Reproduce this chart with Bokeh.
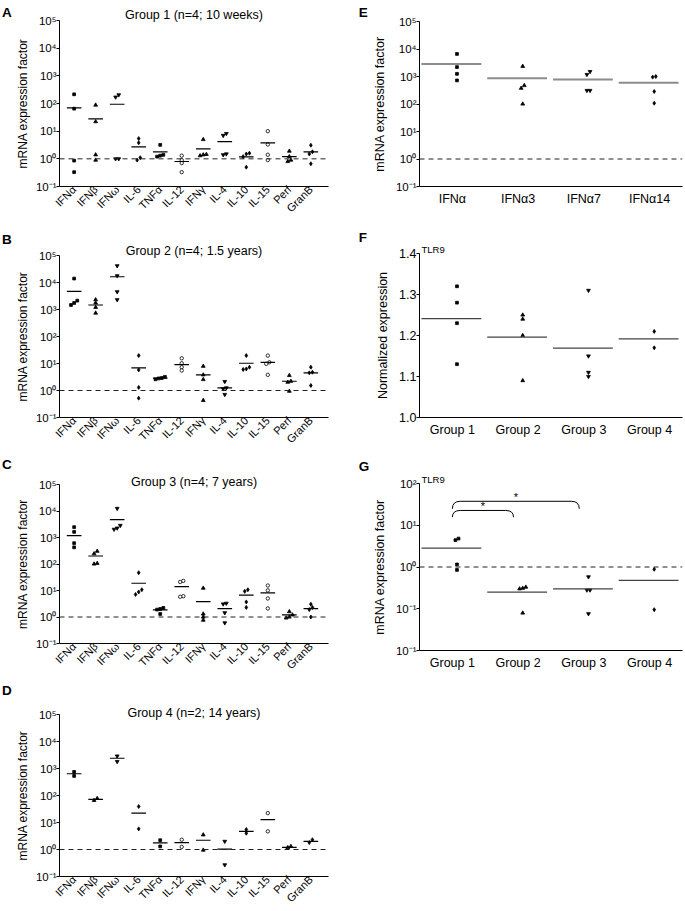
import math
from bokeh.plotting import figure
from bokeh.models import Range1d, FixedTicker, Span, Title
from bokeh.layouts import row, column
from bokeh.core.properties import value
from bokeh.embed import file_html
from bokeh.resources import INLINE

# ---------------- data ----------------
cytokines = ["IFNα", "IFNβ", "IFNω", "IL-6", "TNFα", "IL-12", "IFNγ", "IL-4",
             "IL-10", "IL-15", "Perf", "GranB"]

group_titles = ["Group 1 (n=4; 10 weeks)", "Group 2 (n=4; 1.5 years)",
                "Group 3 (n=4; 7 years)", "Group 4 (n=2; 14 years)"]

g1_values = [[215, 65, 0.86, 0.33], [88, 22, 1.4, 0.9], [205, 170, 1.0, 1.0],
             [5.4, 3.8, 1.1, 0.9], [3.2, 1.4, 1.3, 1.2], [1.3, 0.9, 0.7, 0.33],
             [5.0, 1.45, 1.3, 1.4], [8.2, 7.0, 1.5, 1.4], [1.6, 1.5, 1.2, 0.5],
             [10, 3.3, 1.4, 0.9], [1.9, 1.2, 0.8, 0.9], [3.1, 1.8, 1.5, 0.66]]
g1_means = [70, 28, 94, 2.7, 1.77, 0.8, 2.3, 4.2, 1.17, 3.8, 1.2, 1.78]

g2_values = [[14000, 2130, 1740, 1470], [2300, 1740, 1200, 740],
             [41500, 17700, 4530, 2300], [19.6, 5.8, 1.3, 0.52],
             [3.2, 2.9, 2.8, 2.6], [15.6, 10.2, 7.3, 5.5], [7.9, 3.8, 2.55, 0.43],
             [2.15, 1.25, 1.15, 0.71], [19.6, 7.3, 6.3, 6.0], [19.6, 11.1, 9.7, 3.8],
             [3.6, 2.2, 2.03, 0.94], [7.3, 4.76, 4.5, 1.53]]
g2_means = [4700, 1470, 16300, 6.9, 2.86, 9.1, 3.8, 1.25, 10.2, 11.1, 2.2, 4.5]

g3_values = [[2460, 1630, 610, 425], [303, 245, 106, 100],
             [12500, 2850, 2260, 2040], [47, 10.7, 8.8, 7.1], [2.2, 2.0, 1.9, 1.3],
             [23, 21, 6.1, 5.8], [12.3, 1.3, 1.0, 0.76], [3.3, 3.1, 1.44, 0.6],
             [10.7, 9.3, 3.7, 2.3], [15.4, 10.1, 5.0, 2.1], [1.6, 1.2, 1.0, 0.92],
             [3.05, 2.3, 1.9, 1.0]]
g3_means = [1170, 200, 4700, 18.8, 1.85, 14, 3.8, 2.07, 6.7, 8.1, 1.2, 2.07]

g4_values = [[750, 530], [78, 66], [2900, 1800], [39, 5.8], [2.2, 1.3], [2.3, 1.25],
             [3.5, 0.95], [2.0, 0.27], [5.5, 4.0], [22.3, 4.7], [1.3, 1.18], [2.3, 1.8]]
g4_means = [640, 72, 2400, 22.3, 1.75, 1.8, 2.2, 1.03, 4.7, 12.7, 1.2, 2.0]

subtypes = ["IFNα", "IFNα3", "IFNα7", "IFNα14"]
subtype_values = [[6600, 2200, 1250, 720], [2350, 470, 375, 100],
                  [1510, 1180, 310, 310], [1000, 950, 285, 107]]
subtype_means = [2870, 870, 780, 590]

groups = ["Group 1", "Group 2", "Group 3", "Group 4"]
tlr9_norm_values = [[1.32, 1.28, 1.23, 1.13], [1.25, 1.24, 1.20, 1.09],
                    [1.31, 1.15, 1.11, 1.10], [1.21, 1.17]]
tlr9_norm_means = [1.241, 1.196, 1.169, 1.192]

tlr9_mrna_values = [[4.8, 4.4, 1.15, 0.85], [0.33, 0.31, 0.30, 0.079],
                    [0.58, 0.28, 0.28, 0.076], [0.88, 0.095]]
tlr9_mrna_means = [2.83, 0.25, 0.30, 0.48]

# significance brackets: (from group, to group, top, foot, star)
sig_from = [1, 1]
sig_to = [2, 3]
sig_top = [22.6, 37.5]
sig_foot = [15.6, 24.8]
sig_star = [29, 47]

log_ticks = [0.1, 1, 10, 100, 1000, 10000, 100000]
log_labels = ["10⁻¹", "10⁰", "10¹", "10²", "10³", "10⁴", "10⁵"]
g_ticks = [0.01, 0.1, 1, 10, 100]
g_labels = ["10⁻¹", "10⁻¹", "10⁰", "10¹", "10²"]
lin_ticks = [1.0, 1.1, 1.2, 1.3, 1.4]
lin_labels = ["1.0", "1.1", "1.2", "1.3", "1.4"]

left_letters = ["A", "B", "C", "D"]
right_letters = ["E", "F", "G"]

# ---------------- styles / layout ----------------
FONT = "Liberation Sans"
cyto_markers = ["square", "triangle", "inverted_triangle", "diamond", "square",
                "circle", "triangle", "inverted_triangle", "diamond", "circle",
                "triangle", "diamond"]
cyto_fills = ["black", "black", "black", "black", "black", "white", "black", "black",
              "black", "white", "black", "black"]
grp_markers = ["square", "triangle", "inverted_triangle", "diamond"]
marker_sizes = {"square": 2.8, "triangle": 3.8, "inverted_triangle": 3.8,
                "diamond": 4.0, "circle": 3.4}

PAGE_H = 911
STRIP_L, STRIP_R = 12, 24
left_letter_base = [11.5, 238.5, 463.5, 689.5]     # page y of letter baselines
right_letter_base = [11.7, 236.8, 466.0]
left_letter_x, right_letter_x = 1.5, 13.3


def letter_strip(width, letters, bases, lx):
    s = figure(width=width, height=PAGE_H, x_range=Range1d(0, width),
               y_range=Range1d(PAGE_H, 0), output_backend="svg",
               toolbar_location=None, x_axis_location=None, y_axis_location=None,
               min_border=0, title=None)
    s.outline_line_color = None
    s.xgrid.visible = False
    s.ygrid.visible = False
    s.text(x=[lx] * len(letters), y=bases, text=letters, text_font=value(FONT),
           text_font_size="13.5px", text_font_style="bold", text_color="black",
           text_baseline="alphabetic", text_align="left")
    return s


def spread(vals, to_px, unit_px, min_gap=3.0, step_px=3.2):
    ys = [to_px(v) for v in vals]
    order = sorted(range(len(vals)), key=lambda i: ys[i])
    clusters = []
    for i in order:
        if clusters and ys[i] - ys[clusters[-1][-1]] < min_gap:
            clusters[-1].append(i)
        else:
            clusters.append([i])
    offs = [0.0] * len(vals)
    for c in clusters:
        k = len(c)
        for j, i in enumerate(c):
            offs[i] = (j - (k - 1) / 2) * step_px / unit_px
    return offs


def base_fig(w, h, bl, br, bt, bb, xr, yr, log):
    p = figure(width=w, height=h, x_range=xr, y_range=yr,
               y_axis_type="log" if log else "linear", title=None,
               output_backend="svg", toolbar_location=None,
               min_border_left=bl, min_border_right=br,
               min_border_top=bt, min_border_bottom=bb)
    p.outline_line_color = None
    p.xgrid.visible = False
    p.ygrid.visible = False
    p.background_fill_color = "white"
    p.border_fill_color = "white"
    for ax in (p.xaxis[0], p.yaxis[0]):
        ax.axis_line_color = "black"
        ax.axis_line_width = 1
        ax.major_tick_line_color = "black"
        ax.minor_tick_line_color = None
        ax.major_label_text_font = FONT
        ax.major_label_text_color = "black"
        ax.axis_label_text_font = FONT
        ax.axis_label_text_font_style = "normal"
        ax.axis_label_text_color = "black"
    p.yaxis.major_tick_out = 3
    p.yaxis.major_tick_in = 0
    p.yaxis.major_label_standoff = 0
    p.yaxis.axis_label_standoff = 3
    p.yaxis.axis_label_text_font_size = "12px"
    p.yaxis.major_label_text_font_size = "11.5px"
    p.xaxis.major_tick_out = 0
    p.xaxis.major_tick_in = 0
    return p


def add_heading(p, bt, text, fs, align, offset, baseline):
    """Heading whose baseline sits `baseline` px below the frame top."""
    center = bt + baseline - 0.35 * fs
    h1 = max(2 * (bt - center), 4.0)
    p.add_layout(Title(text=text, align=align, offset=offset, vertical_align="middle",
                       standoff=int(round(h1 - 2 - 1.117 * fs)),
                       text_font=FONT, text_font_size=f"{fs}px",
                       text_font_style="normal", text_color="black"), "above")


def draw_points(p, values, means, markers, fills, to_px, unit_px, half_l, half_r,
                xshift, line_color, line_width):
    for i, vals in enumerate(values):
        offs = spread(vals, to_px, unit_px)
        xs = [i + 1 + xshift + o for o in offs]
        mk = markers[i]
        p.scatter(xs, vals, marker=mk, size=marker_sizes[mk], line_color="black",
                  fill_color=fills[i], line_width=0.8)
        p.segment(x0=[i + 1 - half_l], x1=[i + 1 + half_r], y0=[means[i]],
                  y1=[means[i]], line_color=line_color, line_width=line_width)


def cyto_panel(title, values, means, h, bt, bb, title_base):
    w, bl, br = 345 - STRIP_L, 53 - STRIP_L, 17
    xr = Range1d(0.32, 12.82)
    yr = Range1d(0.1, 1e5)
    p = base_fig(w, h, bl, br, bt, bb, xr, yr, True)
    per_dec = (h - bt - bb) / 6.0
    unit_px = (w - bl - br) / (xr.end - xr.start)
    p.yaxis.ticker = FixedTicker(ticks=log_ticks)
    p.yaxis.major_label_overrides = dict(zip(log_ticks, log_labels))
    p.yaxis.axis_label = "mRNA expression factor"
    p.xaxis.ticker = FixedTicker(ticks=list(range(1, len(cytokines) + 1)))
    p.xaxis.major_label_overrides = {i + 1: c for i, c in enumerate(cytokines)}
    p.xaxis.major_label_orientation = math.pi / 4
    p.xaxis.major_label_text_font_size = "11px"
    p.xaxis.major_label_standoff = 1
    p.add_layout(Span(location=1, dimension="width", line_color="#222222",
                      line_dash="5 4", line_width=1))
    draw_points(p, values, means, cyto_markers, cyto_fills,
                lambda v: math.log10(v) * per_dec, unit_px, 0.34, 0.34, 0.0,
                "black", 1.2)
    add_heading(p, bt, title, 12.5, "center", 0, title_base)
    return p


def group_panel(labels, values, means, h, bt, bb, kind, ylabel, line_color,
                line_width):
    w, bl, br = 340 - STRIP_R, 67 - STRIP_R, 3
    xr = Range1d(0.5, len(labels) + 0.5)
    if kind == "E":
        yr = Range1d(0.1, 1e5)
        to_px = lambda v: math.log10(v) * (h - bt - bb) / 6.0
    elif kind == "G":
        yr = Range1d(0.01, 100)
        to_px = lambda v: math.log10(v) * (h - bt - bb) / 4.0
    else:
        yr = Range1d(1.0, 1.4)
        to_px = lambda v: v * (h - bt - bb) / 0.4
    p = base_fig(w, h, bl, br, bt, bb, xr, yr, kind in ("E", "G"))
    unit_px = (w - bl - br) / (xr.end - xr.start)
    if kind == "E":
        p.yaxis.ticker = FixedTicker(ticks=log_ticks)
        p.yaxis.major_label_overrides = dict(zip(log_ticks, log_labels))
    elif kind == "G":
        p.yaxis.ticker = FixedTicker(ticks=g_ticks)
        p.yaxis.major_label_overrides = dict(zip(g_ticks, g_labels))
    else:
        p.yaxis.ticker = FixedTicker(ticks=lin_ticks)
        p.yaxis.major_label_overrides = dict(zip(lin_ticks, lin_labels))
        p.yaxis.major_label_text_font_size = "12.5px"
    p.yaxis.axis_label = ylabel
    p.yaxis.axis_label_text_font_size = "12.5px"
    p.yaxis.axis_label_standoff = 6
    p.xaxis.ticker = FixedTicker(ticks=list(range(1, len(labels) + 1)))
    p.xaxis.major_label_overrides = {i + 1: c for i, c in enumerate(labels)}
    p.xaxis.major_label_text_font_size = "12.5px"
    p.xaxis.major_label_standoff = 5
    if kind in ("E", "G"):
        p.add_layout(Span(location=1, dimension="width", line_color="#222222",
                          line_dash="5 4", line_width=1))
    draw_points(p, values, means, grp_markers, ["black"] * 4, to_px, unit_px,
                0.47, 0.44, 0.07, line_color, line_width)
    if kind != "E":
        add_heading(p, bt, "TLR9", 9.5, "left", 2, -1.0)
    return p


pA = cyto_panel(group_titles[0], g1_values, g1_means, 225, 20, 39, -1.0)
pB = cyto_panel(group_titles[1], g2_values, g2_means, 227, 30, 35, 0.0)
pC = cyto_panel(group_titles[2], g3_values, g3_means, 226, 32, 29, 1.5)
pD = cyto_panel(group_titles[3], g4_values, g4_means, 233, 36, 33, 2.5)

pE = group_panel(subtypes, subtype_values, subtype_means, 222, 21, 36, "E",
                 "mRNA expression factor", "#8c8c8c", 2)
pF = group_panel(groups, tlr9_norm_values, tlr9_norm_means, 230, 31, 35, "F",
                 "Normalized expression", "#444444", 1.3)
pG = group_panel(groups, tlr9_mrna_values, tlr9_mrna_means, 228, 31, 30, "G",
                 "mRNA expression factor", "#444444", 1.3)

# significance brackets on panel G
for a, b, top, foot, star in zip(sig_from, sig_to, sig_top, sig_foot, sig_star):
    xa, xb = a, b - 0.07
    r = 0.12
    pG.line([xa + r, xb - r], [top, top], line_color="black", line_width=1)
    pG.quadratic(x0=[xa], y0=[foot], x1=[xa + r], y1=[top], cx=[xa], cy=[top],
                 line_color="black", line_width=1)
    pG.quadratic(x0=[xb], y0=[foot], x1=[xb - r], y1=[top], cx=[xb], cy=[top],
                 line_color="black", line_width=1)
    pG.text(x=[(xa + xb) / 2], y=[star], text=["*"], text_font_size="11px",
            text_font=value(FONT), text_align="center", text_baseline="middle",
            text_color="black")

sL = letter_strip(STRIP_L, left_letters, left_letter_base, left_letter_x)
sR = letter_strip(STRIP_R, right_letters, right_letter_base, right_letter_x)

layout = row(sL, column(pA, pB, pC, pD), sR, column(pE, pF, pG))
open("out.html", "w").write(file_html(layout, INLINE))
